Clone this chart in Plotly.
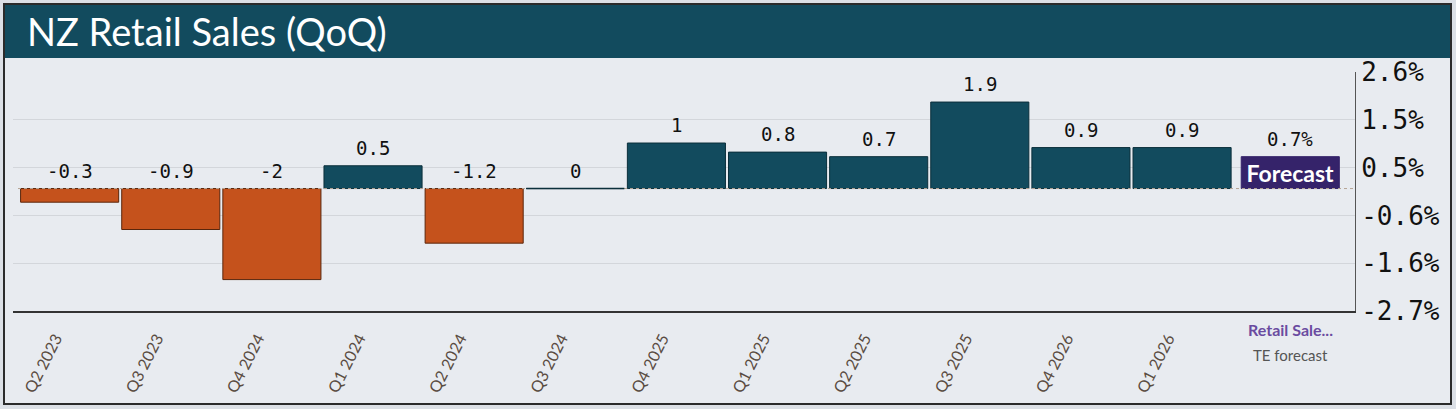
import plotly.graph_objects as go

W, H = 1456, 409

# data
quarters = ["Q2 2023", "Q3 2023", "Q4 2024", "Q1 2024", "Q2 2024", "Q3 2024",
            "Q4 2025", "Q1 2025", "Q2 2025", "Q3 2025", "Q4 2026", "Q1 2026"]
retail_qoq = [-0.3, -0.9, -2.0, 0.5, -1.2, 0.0, 1.0, 0.8, 0.7, 1.9, 0.9, 0.9]
forecast_value = 0.7
y_tickvals = [-2.69, -1.64, -0.59, 0.46, 1.51, 2.56]
y_ticktext = ["-2.7%", "-1.6%", "-0.6%", "0.5%", "1.5%", "2.6%"]

TEAL = "#124B5E"
ORANGE = "#C5521C"
PURPLE = "#35236A"
BG = "#E8EBF0"
MONO = "DejaVu Sans Mono"
SANS = "Lato"


def px_x(p):
    return p / W


def px_y(p):
    return 1 - p / H


idx = list(range(len(quarters)))
colors = [ORANGE if v < 0 else TEAL for v in retail_qoq]
edges = ["#5A260C" if v < 0 else "#0B2F3B" for v in retail_qoq]

fig = go.Figure()

fig.add_trace(go.Bar(
    x=idx, y=retail_qoq, width=0.97,
    marker=dict(color=colors, line=dict(color=edges, width=1)),
    hoverinfo="x+y",
))

# forecast bar, sits a little right of the regular slot
fc_x = len(quarters)
fig.add_trace(go.Bar(
    x=[fc_x], y=[forecast_value], width=0.97, offset=-0.415,
    marker=dict(color=PURPLE, line=dict(color=PURPLE, width=1)),
    text=["<b>Forecast</b>"], textposition="inside", insidetextanchor="middle",
    textfont=dict(family=SANS, size=23, color="white"), constraintext="none",
))

annotations = []
# value labels: above the bar, or above zero for negatives
for i, v in zip(idx, retail_qoq):
    annotations.append(dict(
        x=i, y=max(v, 0), text=f"{v:g}", showarrow=False,
        yanchor="bottom", yshift=5,
        font=dict(family=MONO, size=19, color="#111111"),
    ))
annotations.append(dict(
    x=fc_x + 0.07, y=forecast_value, text=f"{forecast_value:g}%", showarrow=False,
    yanchor="bottom", yshift=5, font=dict(family=MONO, size=19, color="#111111"),
))
# legend-ish labels under the forecast slot
annotations.append(dict(
    x=fc_x + 0.07, xref="x", y=px_y(329), yref="paper", yanchor="middle",
    text="<b>Retail Sale...</b>", showarrow=False,
    font=dict(family=SANS, size=16, color="#6A4BA0"),
))
annotations.append(dict(
    x=fc_x + 0.07, xref="x", y=px_y(355), yref="paper", yanchor="middle",
    text="TE forecast", showarrow=False,
    font=dict(family=SANS, size=15, color="#555555"),
))
# title
annotations.append(dict(
    x=px_x(25), y=px_y(31), xref="paper", yref="paper", xanchor="left",
    yanchor="middle", text="NZ Retail Sales (QoQ)", showarrow=False,
    font=dict(family=SANS, size=38, color="white"),
))

shapes = [
    # card background + border
    dict(type="rect", xref="paper", yref="paper", x0=px_x(4), x1=px_x(1451),
         y0=px_y(404), y1=px_y(4), fillcolor=BG, line=dict(color="#2B2B2B", width=2),
         layer="below"),
    # title band
    dict(type="rect", xref="paper", yref="paper", x0=px_x(5), x1=px_x(1450),
         y0=px_y(58), y1=px_y(5), fillcolor=TEAL, line=dict(width=0), layer="below"),
    # dotted zero line
    dict(type="line", xref="paper", yref="y", x0=px_x(18), x1=px_x(1355), y0=0, y1=0,
         line=dict(color="#B5A595", width=1, dash="dot"), layer="above"),
]
# zero-valued bars show as a flat dark line
for i, v in zip(idx, retail_qoq):
    if v == 0:
        shapes.append(dict(type="line", xref="x", yref="y", x0=i - 0.485, x1=i + 0.485,
                           y0=v, y1=v, line=dict(color="#0B2F3B", width=1.5)))

fig.update_layout(
    width=W, height=H,
    margin=dict(l=0, r=0, t=0, b=0, pad=0),
    paper_bgcolor="#DCE0E6", plot_bgcolor=BG,
    showlegend=False, bargap=0.03,
    annotations=annotations, shapes=shapes,
    xaxis=dict(
        domain=[px_x(13), px_x(1355)], range=[-0.56, 12.71], automargin=False,
        tickmode="array", tickvals=idx, ticktext=quarters, tickangle=-63,
        ticklabelshift=-14, ticklabelstandoff=10,
        tickfont=dict(family=SANS, size=16, color="#5A4C42"),
        showgrid=False, zeroline=False, ticks="",
        showline=True, linecolor="#333333", linewidth=2,
    ),
    yaxis=dict(
        domain=[px_y(311), px_y(72)], range=[-2.69, 2.56], side="right", automargin=False,
        tickmode="array", tickvals=y_tickvals, ticktext=y_ticktext,
        tickfont=dict(family=MONO, size=26, color="#111111"),
        showgrid=True, gridcolor="#D3D6DB", gridwidth=1, zeroline=False,
        showline=True, linecolor="#555555", linewidth=1, ticks="",
    ),
)

# page body has a default 8px margin; drop it so the figure sits at the window corner
fig.write_html("out.html", config={"displayModeBar": False},
               post_script="document.body.style.margin = '0';")
